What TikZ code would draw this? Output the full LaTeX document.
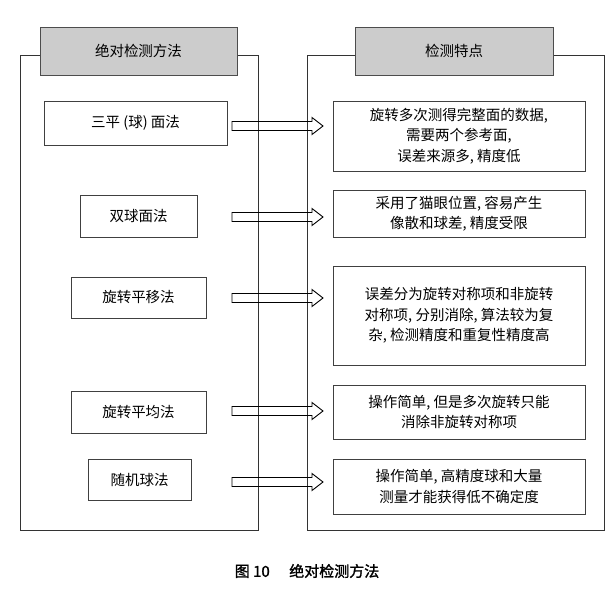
\documentclass[tikz,border=0pt]{standalone}
\usepackage{fontspec}
\setmainfont{Noto Sans CJK SC}
\begin{document}
\begin{tikzpicture}[x=1pt,y=-1pt,
  panel/.style={draw=black!80,line width=0.9pt},
  head/.style={draw=black!70,fill=black!20,line width=0.7pt},
  box/.style={draw=black!75,line width=0.6pt,fill=white},
  txt/.style={font=\fontsize{14.5}{20.5}\selectfont,align=center},
  barr/.style={draw=black,line width=0.9pt}]
\useasboundingbox (0,0) rectangle (614,589);
\draw[panel] (20,55) rectangle (258,530);
\draw[panel] (307,55) rectangle (604,530);
\node[head,minimum width=197pt,minimum height=48pt,txt] (h1) at (138.5,51) {绝对检测方法};
\node[head,minimum width=198pt,minimum height=48pt,txt] (h2) at (454,51) {检测特点};
% left boxes
\node[box,minimum width=183pt,minimum height=44pt,txt] (l1) at (135.5,123) {三平 (球) 面法};
\node[box,minimum width=117pt,minimum height=42pt,txt] (l2) at (138.5,216) {双球面法};
\node[box,minimum width=135pt,minimum height=41pt,txt] (l3) at (138.5,297.5) {旋转平移法};
\node[box,minimum width=135pt,minimum height=42pt,txt] (l4) at (138.5,412) {旋转平均法};
\node[box,minimum width=103pt,minimum height=41pt,txt] (l5) at (139.5,479.5) {随机球法};
% right boxes
\node[box,minimum width=252pt,minimum height=70pt,txt] (r1) at (459,136) {旋转多次测得完整面的数据,\\需要两个参考面,\\误差来源多, 精度低};
\node[box,minimum width=252pt,minimum height=47pt,txt] (r2) at (459,213.5) {采用了猫眼位置, 容易产生\\像散和球差, 精度受限};
\node[box,minimum width=252pt,minimum height=99pt,txt] (r3) at (459,315.5) {误差分为旋转对称项和非旋转\\对称项, 分别消除, 算法较为复\\杂, 检测精度和重复性精度高};
\node[box,minimum width=252pt,minimum height=54pt,txt] (r4) at (459,412) {操作简单, 但是多次旋转只能\\消除非旋转对称项};
\node[box,minimum width=252pt,minimum height=55pt,txt] (r5) at (459,486.5) {操作简单, 高精度球和大量\\测量才能获得低不确定度};
% block arrows
\foreach \y/\n in {126/1,217/2,298/3,411/4,482/5}{
  \coordinate (a\n) at (232,\y);
  \draw[barr] (a\n) ++(0,-4.5) -- ++(80,0) -- ++(0,-4) -- ++(11,8.5) -- ++(-11,8.5) -- ++(0,-4) -- ++(-80,0) -- cycle;
}
\node[font=\fontsize{15}{17}\selectfont\addfontfeature{FakeBold=1.5}] (cap) at (307,571) {图 10\hspace{1.3em}绝对检测方法};
\end{tikzpicture}
\end{document}
